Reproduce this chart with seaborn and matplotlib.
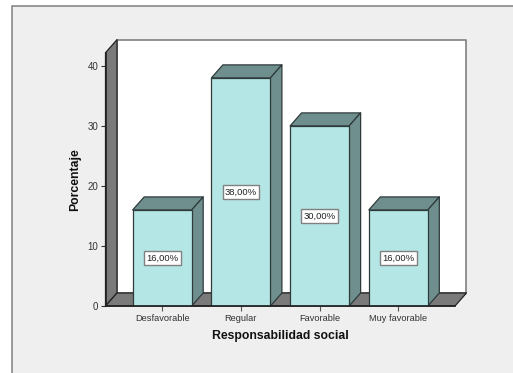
import matplotlib
matplotlib.use("Agg")
import matplotlib.pyplot as plt
from matplotlib.patches import Polygon, Rectangle
import pandas as pd
import seaborn as sns

categorias = ["Desfavorable", "Regular", "Favorable", "Muy favorable"]
porcentajes = [16.0, 38.0, 30.0, 16.0]
marcas_y = [0, 10, 20, 30, 40]

W, H = 513, 373
CARA = "#b5e6e6"
LATERAL = "#6f8f8f"
PARED = "#7a7a7a"
FONDO = "#efefef"
BORDE = "#2f3b3b"
GRIS = "#808080"
TEXTO = "#333333"

sns.set_theme(style="white")
plt.rcParams["font.family"] = ["Liberation Sans", "DejaVu Sans"]

fig = plt.figure(figsize=(W / 100, H / 100), dpi=100, facecolor="white")

# Panel gris de fondo, abierto por la derecha y por abajo
fig.add_artist(Rectangle((12 / W, -0.01), 1.01, (H - 5.5) / H + 0.01,
                         transform=fig.transFigure, facecolor=FONDO,
                         edgecolor=GRIS, linewidth=1.1, zorder=-5))

ax = fig.add_axes([105.5 / W, (H - 306) / H, 349.5 / W, 253.3 / H])
ax.patch.set_visible(False)

df = pd.DataFrame({"categoria": categorias, "porcentaje": porcentajes})
sns.barplot(data=df, x="categoria", y="porcentaje", order=categorias, color=CARA,
            saturation=1, width=0.75, edgecolor=BORDE, linewidth=0.9, ax=ax, zorder=5)

xl, xr = -0.72, 3.72
ymax = 42.2
dx, dy = 0.146, 2.17
ax.set_xlim(xl, xr)
ax.set_ylim(0, ymax)


def cara(puntos, color, borde, z, lw=0.9):
    ax.add_patch(Polygon(puntos, closed=True, facecolor=color, edgecolor=borde,
                         linewidth=lw, clip_on=False, zorder=z, joinstyle="round"))


# Pared del fondo, pared izquierda y suelo de la caja
cara([(xl + dx, dy), (xr + dx, dy), (xr + dx, ymax + dy), (xl + dx, ymax + dy)],
     "white", GRIS, 1, 1.2)
cara([(xl, 0), (xl + dx, dy), (xl + dx, ymax + dy), (xl, ymax)], PARED, "#222222", 2, 0.9)
cara([(xl, 0), (xr, 0), (xr + dx, dy), (xl + dx, dy)], PARED, "#222222", 2, 0.9)

# Caras superior y lateral de cada barra, más su etiqueta de valor
for barra, valor in zip(ax.patches[:len(porcentajes)], porcentajes):
    x0 = barra.get_x()
    x1 = x0 + barra.get_width()
    cara([(x0, valor), (x1, valor), (x1 + dx, valor + dy), (x0 + dx, valor + dy)],
         LATERAL, BORDE, 4)
    cara([(x1, 0), (x1 + dx, dy), (x1 + dx, valor + dy), (x1, valor)], LATERAL, BORDE, 4)
    ax.text((x0 + x1) / 2, valor / 2, f"{valor:.2f}%".replace(".", ","),
            ha="center", va="center", fontsize=6.8, color="#222222", zorder=8,
            bbox=dict(boxstyle="square,pad=0.24", facecolor="white",
                      edgecolor=GRIS, linewidth=1.0))

for lado in ("top", "right"):
    ax.spines[lado].set_visible(False)
ax.spines["left"].set_color("#222222")
ax.spines["bottom"].set_color("#222222")
ax.spines["left"].set_zorder(6)
ax.spines["bottom"].set_zorder(6)

ax.set_yticks(marcas_y)
ax.tick_params(axis="y", left=True, length=3.6, width=0.8, color="#333333",
               labelsize=7, labelcolor=TEXTO, pad=1.5)
ax.tick_params(axis="x", bottom=True, length=3.6, width=0.8, color="#555555",
               labelsize=6.7, labelcolor=TEXTO, pad=2.5)

ax.set_xlabel("")
ax.set_ylabel("")
fig.text(280 / W, 1 - 336.5 / H, "Responsabilidad social", ha="center", va="center",
         fontsize=8.8, fontweight="bold", color="#111111")
fig.text(75.5 / W, 1 - 179.5 / H, "Porcentaje", ha="center", va="center", rotation=90,
         fontsize=8.8, fontweight="bold", color="#111111")

fig.savefig("out.png", dpi=100, facecolor="white")
